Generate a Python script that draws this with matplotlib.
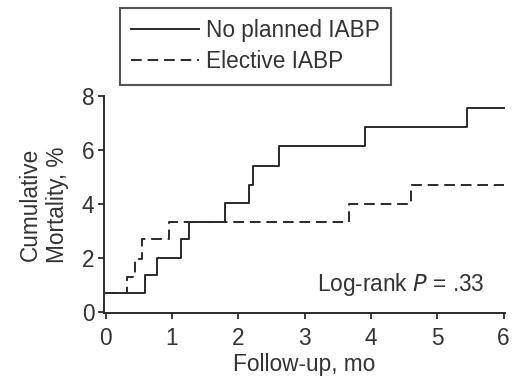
import matplotlib
matplotlib.use("Agg")
import matplotlib.pyplot as plt


# Kaplan-Meier style cumulative mortality
no_iabp_months = [0, 0.59, 0.78, 1.13, 1.26, 1.80, 2.16, 2.22, 2.62, 3.91, 5.45, 6.0]
no_iabp_pct = [0.7, 1.35, 2.0, 2.7, 3.35, 4.05, 4.7, 5.4, 6.15, 6.85, 7.55, 7.55]

elective_months = [0, 0.32, 0.44, 0.55, 0.95, 3.67, 4.6, 6.0]
elective_pct = [0.7, 1.3, 1.96, 2.69, 3.33, 4.0, 4.7, 4.7]

x_ticks = [0, 1, 2, 3, 4, 5, 6]
y_ticks = [0, 2, 4, 6, 8]
labels = ["No planned IABP", "Elective IABP"]

INK = "#2a2a2a"
TXT = "#333333"

plt.rcParams["font.family"] = ["Liberation Sans", "DejaVu Sans"]
FS = 16.3

fig = plt.figure(figsize=(5.12, 3.79), dpi=100)
ax = fig.add_axes([104 / 512, 1 - 313 / 379, (505 - 104) / 512, (313 - 96) / 379])

ax.step(no_iabp_months, no_iabp_pct, where="post", color=INK, lw=1.4,
        label=labels[0])
dashed, = ax.step(elective_months, elective_pct, where="post", color=INK, lw=1.4,
                  label=labels[1])
dashed.set_dashes((5.5, 3))

ax.set_xlim(-0.025, 6.02)
ax.set_ylim(-0.04, 8)
ax.set_xticks(x_ticks)
ax.set_yticks(y_ticks)
ax.tick_params(direction="out", length=4, width=1.3, colors=INK,
               labelcolor=TXT, labelsize=FS, pad=3)
ax.tick_params(axis="x", pad=6)

for side in ["top", "right"]:
    ax.spines[side].set_visible(False)
for side in ["left", "bottom"]:
    ax.spines[side].set_color(INK)
    ax.spines[side].set_linewidth(1.4)

ax.set_xlabel("Follow-up, mo", fontsize=FS, color=TXT, labelpad=2)
ax.set_ylabel("Cumulative\nMortality, %", fontsize=FS, color=TXT,
              labelpad=9, linespacing=1.25)

ax.text(4.45, 1.0, "Log-rank $P$ = .33", fontsize=FS, color=TXT,
        ha="center", va="center")

leg = fig.legend(loc="upper left", bbox_to_anchor=(120 / 512, 1 - 8 / 379),
                 fontsize=FS, frameon=True, fancybox=False, borderaxespad=0,
                 handlelength=3.0, handletextpad=0.3, borderpad=0.5,
                 labelspacing=0.35, labelcolor=TXT)
leg.get_frame().set_edgecolor(INK)
leg.get_frame().set_linewidth(1.5)

fig.savefig("out.png", dpi=100)
